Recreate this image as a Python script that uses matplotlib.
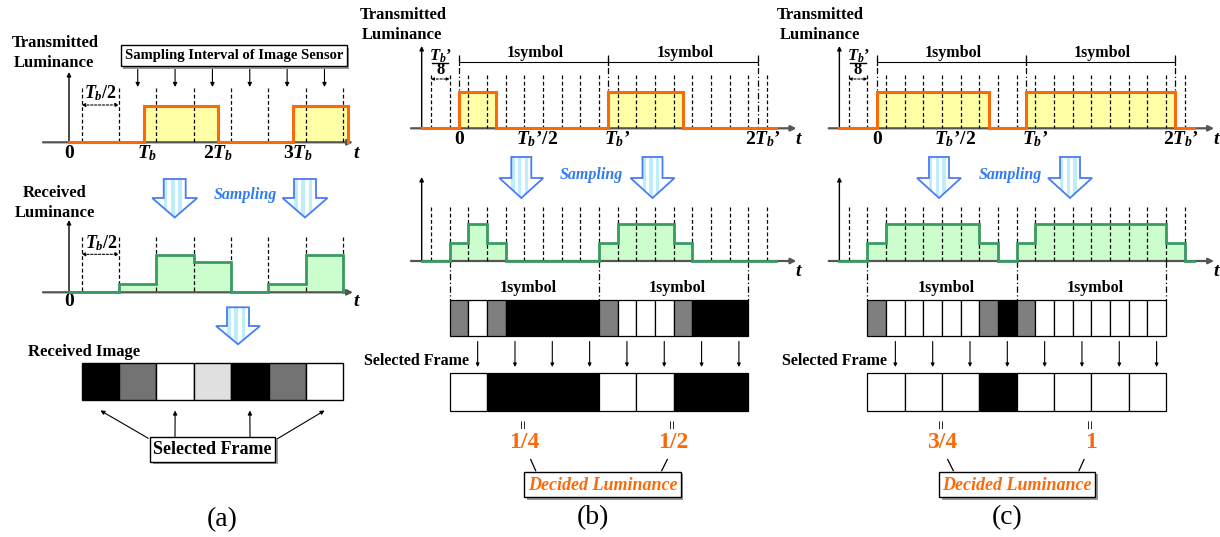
import matplotlib
matplotlib.use('Agg')
import matplotlib.pyplot as plt
from matplotlib.patches import Rectangle, Polygon

plt.rcParams['font.family'] = ['Liberation Serif', 'DejaVu Serif']
plt.rcParams['mathtext.fontset'] = 'custom'
plt.rcParams['mathtext.it'] = 'Liberation Serif:italic:bold'
plt.rcParams['mathtext.rm'] = 'Liberation Serif:bold'
plt.rcParams['mathtext.bf'] = 'Liberation Serif:bold'

# ---------------- data ----------------
a_tx_on = [(1.0, 2.0), (3.0, 3.74)]          # ON intervals, in units of T_b
a_tx_end = 3.74
a_tick_labels = ['0', '$T_b$', '2$T_b$', '3$T_b$']
a_tick_pos = [0, 1.05, 2.0, 3.07]
a_rx_levels = [0.0, 0.22, 1.0, 0.82, 0.0, 0.22, 1.0]   # received level per sampling interval
a_image_gray = [0.0, 0.45, 1.0, 0.88, 0.0, 0.45, 1.0]  # received image frames
a_selected = [0, 2, 4, 6]

b_tx_on = [(0, 2), (8, 12)]                  # units of T_b'/8
c_tx_on = [(0, 6), (8, 16)]
b_rx_levels = [0, 1, 2, 1, 0, 0, 0, 0, 0, 1, 2, 2, 2, 1, 0, 0, 0, 0]   # in halves
c_rx_levels = [0, 1, 2, 2, 2, 2, 2, 1, 0, 1, 2, 2, 2, 2, 2, 2, 2, 1]
bc_tick_labels = ['0', '$T_b$\u2019/2', '$T_b$\u2019', '2$T_b$\u2019']
bc_tick_pos = [0, 4.2, 8.5, 16.3]
b_decided = ['1/4', '1/2']
c_decided = ['3/4', '1']

ORANGE = '#fa6a0a'
YELLOW = '#ffffa6'
GREEN = '#3b9a62'
LGREEN = '#ccfdcc'
BLUE = '#2f7cf2'
AXC = '#555555'

fig = plt.figure(figsize=(12.2, 5.37), dpi=100)
ax = fig.add_axes([0, 0, 1, 1])
ax.set_xlim(0, 1220)
ax.set_ylim(537, 0)
ax.axis('off')

BOLD = dict(fontweight='bold', family='Liberation Serif')


def arrow(x1, y1, x2, y2, lw=0.8, ms=7, color='k', style='-|>'):
    ax.annotate('', xy=(x2, y2), xytext=(x1, y1),
                arrowprops=dict(arrowstyle=style, lw=lw, color=color,
                                mutation_scale=ms, shrinkA=0, shrinkB=0))


def axes_lines(xaxis0, xaxis1, yb, yx, ytop):
    arrow(xaxis0, yb, xaxis1, yb, lw=1.6, ms=8, color=AXC)
    arrow(yx, yb, yx, ytop, lw=1.0, ms=6, color='k')


def dashed_v(x, y0, y1):
    ax.plot([x, x], [y0, y1], color='k', lw=0.9, ls=(0, (3, 2)), zorder=4)


def dashdot_v(x, y0, y1):
    ax.plot([x, x], [y0, y1], color='k', lw=0.9, ls=(0, (5, 2, 1, 2)), zorder=4)


def boxed_text(x0, y0, x1, y1, txt, size, color='k', style='normal'):
    ax.add_patch(Rectangle((x0 + 2.5, y0 + 2.5), x1 - x0, y1 - y0, fc='#9a9a9a', ec='none', zorder=5))
    ax.add_patch(Rectangle((x0, y0), x1 - x0, y1 - y0, fc='white', ec='k', lw=1.0, zorder=6))
    ax.text((x0 + x1) / 2, (y0 + y1) / 2 + 0.5, txt, ha='center', va='center', fontsize=size,
            color=color, fontstyle=style, zorder=7, **BOLD)


def hollow_arrow(cx, top, head_y, tip, shw, hhw):
    pts = [(cx - shw, top), (cx + shw, top), (cx + shw, head_y), (cx + hhw, head_y),
           (cx, tip), (cx - hhw, head_y), (cx - shw, head_y)]
    poly = Polygon(pts, closed=True, fc='white', ec='none', zorder=3)
    ax.add_patch(poly)
    n = 6
    w = 2 * shw / n
    for i in range(n):
        if i % 2 == 0:
            r = Rectangle((cx - shw + i * w, top), w, tip - top, fc='#bfeefb', ec='none', zorder=3)
            ax.add_patch(r)
            r.set_clip_path(poly)
    ax.add_patch(Polygon(pts, closed=True, fc='none', ec='#4a7cf3', lw=1.3, zorder=4))


def step_xy(edges, levels):
    xs, ys = [], []
    for i, lv in enumerate(levels):
        xs += [edges[i], edges[i + 1]]
        ys += [lv, lv]
    return xs, ys


def draw_tx(x0, u, yb, amp, on, xs, xe):
    edges = [xs]
    levels = []
    for s, e in on:
        edges += [s, e]
        levels += [0, 1]
    edges.append(xe)
    levels.append(0)
    for s, e in on:
        ax.add_patch(Rectangle((x0 + s * u, yb - amp), (e - s) * u, amp, fc=YELLOW, ec='none', zorder=2))
    px, py = step_xy(edges, levels)
    ax.plot([x0 + p * u for p in px], [yb - q * amp for q in py], color=ORANGE, lw=2.2, zorder=5,
            solid_joinstyle='miter')


def draw_rx(x0, u, yb, amp, line_pos, levels, xs, xe):
    edges = [xs] + list(line_pos) + [xe]
    lv = [0] + list(levels) + [0]
    for i, l in enumerate(levels):
        if l > 0:
            ax.add_patch(Rectangle((x0 + line_pos[i] * u, yb - l * amp), (line_pos[i + 1] - line_pos[i]) * u,
                                   l * amp, fc=LGREEN, ec='none', zorder=2))
    px, py = step_xy(edges, lv)
    ax.plot([x0 + p * u for p in px], [yb - q * amp for q in py], color=GREEN, lw=2.0, zorder=5,
            solid_joinstyle='miter')


# ================= panel (a) =================
xa, ua = 69.0, 74.7
ax.text(55, 43, 'Transmitted', ha='center', va='center', fontsize=12, **BOLD)
ax.text(54, 63, 'Luminance', ha='center', va='center', fontsize=12, **BOLD)
axes_lines(43, 353, 142.3, xa, 72)
a_lines = [0.17 + 0.5 * k for k in range(8)]
for p in a_lines:
    dashed_v(xa + p * ua, 88, 142.3)
draw_tx(xa, ua, 142.3, 36.6, a_tx_on, 0, a_tx_end)
boxed_text(120.7, 45, 346.7, 66, 'Sampling Interval of Image Sensor', 10.5)
for k in range(1, 7):
    xm = xa + (a_lines[k] + 0.25) * ua
    arrow(xm, 67, xm, 87, lw=0.8, ms=6)
ax.annotate('', xy=(xa + a_lines[1] * ua, 105), xytext=(xa + a_lines[0] * ua, 105),
            arrowprops=dict(arrowstyle='<|-|>', lw=0.8, ls=(0, (2, 1.5)), mutation_scale=5,
                            color='k', shrinkA=0, shrinkB=0), zorder=6)
ax.text(100, 93, '$T_b$/2', ha='center', va='center', fontsize=13, **BOLD)
for lab, p in zip(a_tick_labels, a_tick_pos):
    ax.text(xa + p * ua, 153, lab, ha='center', va='center', fontsize=14, **BOLD)
ax.text(356, 153, 't', ha='center', va='center', fontsize=14, fontstyle='italic', **BOLD)

# received (a)
ax.text(55, 193, 'Received', ha='center', va='center', fontsize=12, **BOLD)
ax.text(55, 213, 'Luminance', ha='center', va='center', fontsize=12, **BOLD)
hollow_arrow(174.7, 179, 198, 217.5, 11, 22.5)
hollow_arrow(305, 179, 198, 217.5, 11, 22.5)
ax.text(245, 195, 'Sampling', ha='center', va='center', fontsize=11.5, color=BLUE,
        fontstyle='italic', **BOLD)
axes_lines(43, 353, 292.3, xa, 220)
for p in a_lines:
    dashed_v(xa + p * ua, 237, 292.3)
draw_rx(xa, ua, 292.3, 37.3, a_lines, a_rx_levels, 0, a_lines[-1])
ax.annotate('', xy=(xa + a_lines[1] * ua, 254.3), xytext=(xa + a_lines[0] * ua, 254.3),
            arrowprops=dict(arrowstyle='<|-|>', lw=0.8, ls=(0, (2, 1.5)), mutation_scale=5,
                            color='k', shrinkA=0, shrinkB=0), zorder=6)
ax.text(101.7, 243, '$T_b$/2', ha='center', va='center', fontsize=13, **BOLD)
ax.text(69, 302, '0', ha='center', va='center', fontsize=14, **BOLD)
ax.text(356, 302, 't', ha='center', va='center', fontsize=14, fontstyle='italic', **BOLD)

# received image (a)
hollow_arrow(238, 307.3, 326, 344.3, 11, 22)
ax.text(84, 352, 'Received Image', ha='center', va='center', fontsize=12, **BOLD)
sx0, sw = 81.7, (343.3 - 81.7) / len(a_image_gray)
for i, g in enumerate(a_image_gray):
    ax.add_patch(Rectangle((sx0 + i * sw, 362.7), sw, 37.3, fc=str(g), ec='k', lw=1.0, zorder=3))
boxed_text(150, 436.7, 275, 461.7, 'Selected Frame', 13)
starts = [(148.3, 438.3), (175, 436.7), (250, 436.7), (276.5, 439.3)]
for (xs_, ys_), idx in zip(starts, a_selected):
    arrow(xs_, ys_, sx0 + (idx + 0.5) * sw, 410.5, lw=0.8, ms=6)
ax.text(222, 520, '(a)', ha='center', va='center', fontsize=20)


# ================= panels (b) and (c) =================
def panel_bc(x0, tx_on, rx_levels, decided, name, arrow_cx, samp_x, box, fr_x, lines_pts):
    u = 18.66
    tx_yb, rx_yb = 128.3, 261.0
    ax.text(x0 - 56, 15, 'Transmitted', ha='center', va='center', fontsize=12, **BOLD)
    ax.text(x0 - 57, 35, 'Luminance', ha='center', va='center', fontsize=12, **BOLD)
    yx = x0 - 2 * u
    axes_lines(x0 - 48, x0 + 18 * u + 1.5, tx_yb, yx, 46)
    lines = [-1.5 + k for k in range(19)]
    for p in lines:
        dashed_v(x0 + p * u, 75, tx_yb)
    for p in [0, 8, 16]:
        dashdot_v(x0 + p * u, 55, tx_yb)
    for s, e in [(0, 8), (8, 16)]:
        ax.plot([x0 + s * u, x0 + e * u], [61.7, 61.7], color='k', lw=0.8)
        for q in (s, e):
            ax.plot([x0 + q * u, x0 + q * u], [58.5, 65], color='k', lw=0.8)
        ax.text(x0 + (s + e) / 2 * u + 2, 53, '1symbol', ha='center', va='center', fontsize=11.5, **BOLD)
    draw_tx(x0, u, tx_yb, 36.6, tx_on, -2, 17)
    ax.annotate('', xy=(x0 - 0.5 * u, 79), xytext=(x0 - 1.5 * u, 79),
                arrowprops=dict(arrowstyle='<|-|>', lw=0.8, ls=(0, (2, 1.5)), mutation_scale=4,
                                color='k', shrinkA=0, shrinkB=0), zorder=6)
    fx = x0 - u
    ax.text(fx, 56, '$T_b$\u2019', ha='center', va='center', fontsize=12, **BOLD)
    ax.plot([fx - 8, fx + 8], [62.5, 62.5], color='k', lw=1.0)
    ax.text(fx, 70.5, '8', ha='center', va='center', fontsize=12, **BOLD)
    for lab, p in zip(bc_tick_labels, bc_tick_pos):
        ax.text(x0 + p * u, 139, lab, ha='center', va='center', fontsize=14, **BOLD)
    ax.text(x0 + 18 * u + 3.5, 140, 't', ha='center', va='center', fontsize=14, fontstyle='italic', **BOLD)

    # received
    for cx in arrow_cx:
        hollow_arrow(cx, 157, 178, 198, 10, 22)
    ax.text(samp_x, 175, 'Sampling', ha='center', va='center', fontsize=11.5, color=BLUE,
            fontstyle='italic', **BOLD)
    axes_lines(x0 - 48, x0 + 18 * u + 1.5, rx_yb, yx, 177)
    for p in lines:
        dashed_v(x0 + p * u, 206.7, rx_yb)
    draw_rx(x0, u, rx_yb, 18.5, lines, rx_levels, -2, 17)
    ax.text(x0 + 18 * u + 3.5, 272, 't', ha='center', va='center', fontsize=14, fontstyle='italic', **BOLD)
    for p in [-0.5, 7.5, 15.5]:
        dashdot_v(x0 + p * u, rx_yb, 300)
    for c in [3.5, 11.5]:
        ax.text(x0 + c * u + 4, 288.5, '1symbol', ha='center', va='center', fontsize=11.5, **BOLD)

    # frame strip (cells 1..16)
    cmap = {0: 'black', 1: '#7f7f7f', 2: 'white'}
    for i in range(1, 17):
        ax.add_patch(Rectangle((x0 + lines[i] * u, 300), u, 36, fc=cmap[rx_levels[i]],
                               ec='k', lw=0.9, zorder=3))
    ax.text(x0 - 42, 361, 'Selected Frame', ha='center', va='center', fontsize=11.5, **BOLD)
    sel = list(range(2, 17, 2))
    for i in sel:
        xm = x0 + (lines[i] + 0.5) * u
        arrow(xm, 341.5, xm, 367, lw=0.8, ms=5)
    for j, i in enumerate(sel):
        ax.add_patch(Rectangle((x0 + (-0.5 + 2 * j) * u, 373.3), 2 * u, 37.7, fc=cmap[rx_levels[i]],
                               ec='k', lw=0.9, zorder=3))
    for c, d in zip([3.5, 11.5], decided):
        ax.text(x0 + c * u, 424, '=', ha='center', va='center', fontsize=12, rotation=90, **BOLD)
        ax.text(x0 + c * u, 443, d, ha='center', va='center', fontsize=17, color=ORANGE, **BOLD)
    boxed_text(box[0], 471.7, box[1], 497.3, 'Decided Luminance', 13, color=ORANGE, style='italic')
    for (xa1, ya1, xa2, ya2) in lines_pts:
        ax.plot([xa1, xa2], [ya1, ya2], color='k', lw=0.9)
    ax.text(fr_x, 518, name, ha='center', va='center', fontsize=20)


panel_bc(459.0, b_tx_on, b_rx_levels, b_decided, '(b)', [521.3, 652.5], 591.7,
         (524.3, 680.7), 593, [(535.7, 470.7, 530.7, 459.5), (661.7, 470.7, 667.3, 459.5)])
panel_bc(876.7, c_tx_on, c_rx_levels, c_decided, '(c)', [939.0, 1070.0], 1010.0,
         (939.0, 1095.0), 1007, [(953.3, 470.7, 947.7, 459.5), (1079.0, 470.7, 1084.0, 459.5)])

fig.savefig('out.png', dpi=100)
